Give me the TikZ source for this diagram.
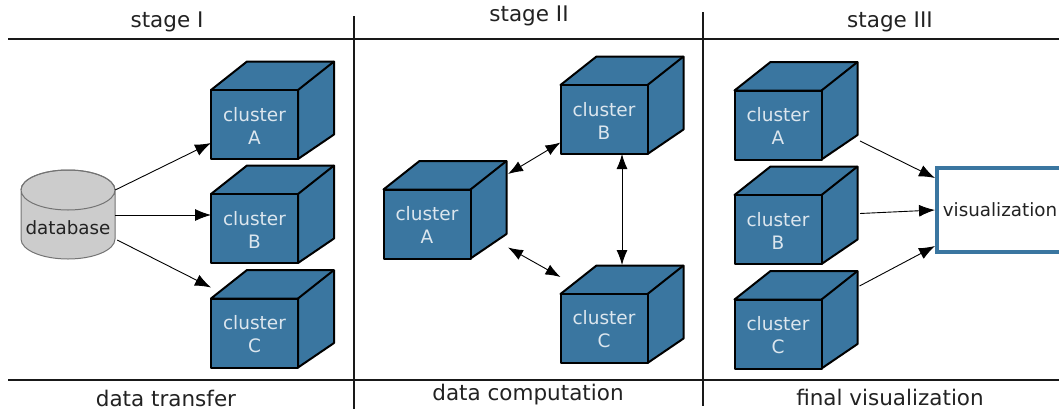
\documentclass[tikz,border=0pt]{standalone}
\usepackage{fontspec}
\setmainfont{DejaVu Sans}
\usetikzlibrary{arrows.meta}
\definecolor{cubeblue}{HTML}{3A76A0}
\definecolor{dbgray}{HTML}{CCCCCC}
\definecolor{inktext}{HTML}{222222}
\tikzset{
  x=1pt,y=-1pt,
  rule/.style={line width=2.8pt,black!90},
  face/.style={fill=cubeblue,draw=black,line width=2pt,line join=round},
  cube/.style={face,minimum width=87pt,minimum height=69pt,inner sep=0pt,outer sep=0pt,align=center,
    text=white!82!cubeblue,font=\fontsize{18.5}{23}\selectfont,text height=39pt},
  heading/.style={font=\fontsize{21.5}{24}\selectfont,text=inktext},
  link/.style={-{Latex[length=16pt,width=12pt]},line width=0.9pt,black},
  both/.style={{Latex[length=15pt,width=11pt]}-{Latex[length=15pt,width=11pt]},line width=0.9pt,black}
}
\newcommand{\clusterbox}[4]{
  \draw[face] (#2-43.5,#3-34.5) -- ++(36,-28.5) -- ++(87,0) -- ++(0,73) -- ++(-36,24.5) -- ++(0,-69) -- cycle;
  \draw[face] (#2+43.5,#3-34.5) -- ++(36,-28.5);
  \node[cube] (#1) at (#2,#3) {cluster\\#4};
}
\begin{document}
\begin{tikzpicture}
  \useasboundingbox (0,0) rectangle (1059,410);
  % rules
  \coordinate (ruleTL) at (8,39);
  \coordinate (ruleTR) at (1059,39);
  \coordinate (ruleBL) at (8,380);
  \coordinate (ruleBR) at (1059,380);
  \draw[rule] (ruleTL) -- (ruleTR);
  \draw[rule] (ruleBL) -- (ruleBR);
  \coordinate (sepAt) at (354,16);
  \coordinate (sepAb) at (354,409);
  \coordinate (sepBt) at (703,12);
  \coordinate (sepBb) at (703,406);
  \draw[rule] (sepAt) -- (sepAb);
  \draw[rule] (sepBt) -- (sepBb);
  % headings
  \node[heading] (stage1) at (167,22) {stage I};
  \node[heading] (stage2) at (529,16) {stage II};
  \node[heading] (stage3) at (890,22) {stage III};
  \node[heading] (foot1) at (166,398) {data transfer};
  \node[heading] (foot2) at (528,395) {data computation};
  \node[heading] (foot3) at (890,397) {final visualization};
  % stage one
  \draw[fill=dbgray,draw=black!55,line width=1pt] (21,190) -- (21,239) arc[start angle=180,end angle=360,x radius=47,y radius=-20]
    -- (115,190) arc[start angle=0,end angle=360,x radius=47,y radius=-20];
  \draw[draw=black!55,line width=1pt] (21,190) arc[start angle=180,end angle=360,x radius=47,y radius=20];
  \node[font=\fontsize{18.3}{24}\selectfont,text=inktext,minimum width=94pt,inner sep=0pt] (db) at (68,228) {database};
  \clusterbox{a1}{254.5}{124.5}{A}
  \clusterbox{b1}{254.5}{228.5}{B}
  \clusterbox{c1}{254.5}{333}{C}
  \draw[link] ([yshift=38pt]db.east) -- ([yshift=-18.5pt]a1.west);
  \draw[link] ([yshift=13pt]db.east) -- ([yshift=13.5pt]b1.west);
  \draw[link] ([xshift=2pt,yshift=-12pt]db.east) -- ([yshift=11pt]c1.north west);
  % stage two
  \clusterbox{a2}{427}{224}{A}
  \clusterbox{b2}{604}{119.5}{B}
  \clusterbox{c2}{604}{328.5}{C}
  \draw[both] ([xshift=37.5pt,yshift=50pt]a2.east) -- ([yshift=-23pt]b2.west);
  \draw[both] ([xshift=37.5pt,yshift=-23.5pt]a2.east) -- ([yshift=17pt]c2.north west);
  \draw[both] ([xshift=18pt]b2.south) -- ([xshift=18pt,yshift=29pt]c2.north);
  % stage three
  \clusterbox{a3}{778}{125}{A}
  \clusterbox{b3}{778}{229.5}{B}
  \clusterbox{c3}{778}{334}{C}
  \node[draw=cubeblue,line width=3.5pt,minimum width=130pt,minimum height=84pt,inner sep=0pt,outer sep=1.75pt,anchor=west] (vis) at (935,210) {};
  \node[font=\fontsize{18.3}{24}\selectfont,text=inktext] (vistext) at (1000,210) {visualization};
  \draw[link] ([xshift=38.5pt,yshift=-16pt]a3.east) -- ([yshift=32pt]vis.west);
  \draw[link] ([xshift=38.5pt,yshift=16pt]b3.east) -- (vis.west);
  \draw[link] ([xshift=38pt,yshift=48pt]c3.east) -- ([yshift=-36pt]vis.west);
\end{tikzpicture}
\end{document}
